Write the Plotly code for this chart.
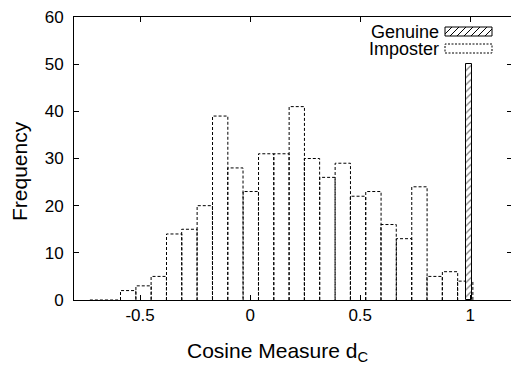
import plotly.graph_objects as go

# ---- data ----
imp_centers = [-0.693, -0.624, -0.554, -0.484, -0.415, -0.345, -0.276, -0.206,
               -0.136, -0.067, 0.003, 0.073, 0.142, 0.212, 0.281, 0.351,
               0.421, 0.490, 0.560, 0.629, 0.699, 0.769, 0.838, 0.908, 0.977]
imp_counts = [0, 0, 2, 3, 5, 14, 15, 20, 39, 28, 23, 31, 31, 41, 30, 26,
              29, 22, 23, 16, 13, 24, 5, 6, 4]
imp_width = 0.0696

gen_centers = [0.993]
gen_counts = [50]
gen_width = 0.026

x_ticks = [-0.5, 0, 0.5, 1]
x_ticklabels = ["-0.5", "0", "0.5", "1"]
y_ticks = [0, 10, 20, 30, 40, 50, 60]

XR = [-0.8, 1.185]
YR = [0, 60]
FONT = "Liberation Sans, Arial, Helvetica, sans-serif"

fig = go.Figure()

# imposter bars: white fill, dashed outline drawn as a path from the bar edges
fig.add_trace(go.Bar(x=imp_centers, y=imp_counts, width=imp_width,
                     marker=dict(color="rgba(255,255,255,0)", line=dict(width=0)),
                     name="Imposter", showlegend=False, hoverinfo="skip"))
ox, oy = [], []
for c, h in zip(imp_centers, imp_counts):
    l, r = c - imp_width / 2, c + imp_width / 2
    ox += [l, l, r, r, None]
    oy += [0, h, h, 0, None]
fig.add_trace(go.Scatter(x=ox, y=oy, mode="lines",
                         line=dict(color="black", width=1, dash="3px,2px"),
                         showlegend=False, hoverinfo="skip"))

# genuine bar on an overlaid axis pair so it sits above the imposter outlines
fig.add_trace(go.Bar(x=gen_centers, y=gen_counts, width=gen_width,
                     xaxis="x2", yaxis="y2",
                     marker=dict(color="white",
                                 line=dict(color="black", width=1),
                                 pattern=dict(shape="/", size=5, solidity=0.25,
                                              fgcolor="black", bgcolor="white")),
                     name="Genuine", showlegend=False))

# ---- layout helpers (pixel -> paper) ----
W, H = 511, 368
L, R, T, B = 74, 0, 17, 68
pw, ph = W - L - R, H - T - B
def px(x): return (x - L) / pw
def py(y): return (H - B - y) / ph

shapes = []
annotations = []
# Genuine key (gnuplot style: text left, hatched key right)
gx0, gx1, gy0, gy1 = 445, 492, 27, 36
shapes.append(dict(type="rect", xref="paper", yref="paper",
                   x0=px(gx0), x1=px(gx1), y0=py(gy1), y1=py(gy0),
                   line=dict(color="black", width=1), fillcolor="white"))
step = 7
xs = gx0 - (gy1 - gy0)
while xs < gx1:
    a0, a1 = xs, xs + (gy1 - gy0)
    x_start, y_start = a0, gy1
    x_end, y_end = a1, gy0
    if x_start < gx0:
        y_start = gy1 - (gx0 - x_start)
        x_start = gx0
    if x_end > gx1:
        y_end = gy0 + (x_end - gx1)
        x_end = gx1
    if x_end > x_start:
        shapes.append(dict(type="line", xref="paper", yref="paper",
                           x0=px(x_start), y0=py(y_start), x1=px(x_end), y1=py(y_end),
                           line=dict(color="black", width=1)))
    xs += step
annotations.append(dict(text="Genuine", xref="paper", yref="paper",
                        x=px(441), y=py(32), xanchor="right", yanchor="middle",
                        showarrow=False, font=dict(family=FONT, size=18, color="black")))
# Imposter key
ix0, ix1, iy0, iy1 = 445, 492, 44, 53
shapes.append(dict(type="rect", xref="paper", yref="paper",
                   x0=px(ix0), x1=px(ix1), y0=py(iy1), y1=py(iy0),
                   line=dict(color="black", width=1, dash="2px,1.5px"), fillcolor="white"))
annotations.append(dict(text="Imposter", xref="paper", yref="paper",
                        x=px(441), y=py(49), xanchor="right", yanchor="middle",
                        showarrow=False, font=dict(family=FONT, size=18, color="black")))

# axis titles
annotations.append(dict(text="Cosine Measure d<sub>C</sub>", xref="paper", yref="paper",
                        x=px(277), y=py(352), xanchor="center", yanchor="middle",
                        showarrow=False, font=dict(family=FONT, size=21, color="black")))
annotations.append(dict(text="Frequency", xref="paper", yref="paper",
                        x=px(19), y=py(171), xanchor="center", yanchor="middle",
                        textangle=-90,
                        showarrow=False, font=dict(family=FONT, size=21, color="black")))

fig.update_layout(
    width=W, height=H,
    margin=dict(l=L, r=R, t=T, b=B, pad=0),
    paper_bgcolor="white", plot_bgcolor="white",
    font=dict(family=FONT, size=17, color="black"),
    showlegend=False, barmode="overlay", bargap=0,
    shapes=shapes, annotations=annotations,
    xaxis=dict(range=XR, tickvals=x_ticks, ticktext=x_ticklabels,
               ticks="inside", ticklen=5, tickcolor="black", tickwidth=1,
               showline=True, linecolor="black", linewidth=1, mirror="ticks",
               showgrid=False, zeroline=False, ticklabelstandoff=0,
               tickfont=dict(size=17)),
    yaxis=dict(range=YR, tickvals=y_ticks,
               ticks="inside", ticklen=5, tickcolor="black", tickwidth=1,
               showline=True, linecolor="black", linewidth=1,
               showgrid=False, zeroline=False, ticklabelstandoff=6,
               tickfont=dict(size=17)),
    xaxis2=dict(range=XR, overlaying="x", anchor="y2", visible=False),
    yaxis2=dict(range=YR, overlaying="y", anchor="x2", side="right",
                tickvals=y_ticks, ticks="inside", ticklen=4, tickcolor="black",
                showticklabels=False, showline=False, showgrid=False, zeroline=False),
)

fig.write_html("out.html")
